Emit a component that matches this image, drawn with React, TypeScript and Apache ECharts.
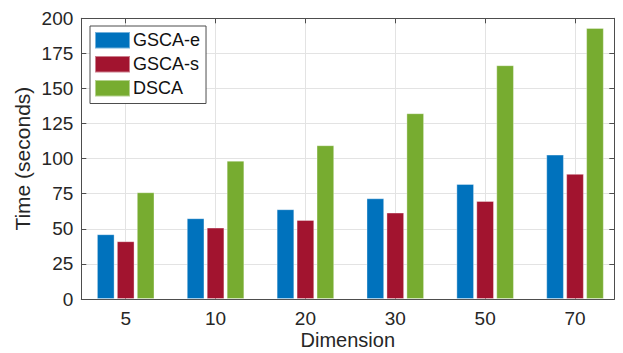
import React, { useEffect, useRef } from "react";
import * as echarts from "echarts";

const categories = ["5", "10", "20", "30", "50", "70"];
const seriesNames = ["GSCA-e", "GSCA-s", "DSCA"];
const gscaE = [46.1, 57.5, 63.9, 71.7, 81.9, 102.8];
const gscaS = [41.1, 50.8, 56.3, 61.5, 69.8, 89.1];
const dsca = [76.0, 98.5, 109.5, 132.3, 166.5, 193.1];
const yTicks = [0, 25, 50, 75, 100, 125, 150, 175, 200];

const colors = ["#0072BD", "#A2142F", "#77AC30"];
const FONT = "'Liberation Sans', Arial, Helvetica, sans-serif";
const TEXT = "#262626";
const AXIS = "#4d4d4d";
const GRID = "#e3e3e3";

export default function App() {
  const ref = useRef<HTMLDivElement>(null);
  useEffect(() => {
    document.body.style.margin = "0";
    const chart = echarts.init(ref.current!, null, { renderer: "svg" });
    const values = [gscaE, gscaS, dsca];
    const xMin = 0.506;
    const xMax = 6.437;
    const labelFor = (v: number) => {
      const i = Math.round(v);
      if (Math.abs(v - i) > 1e-6) return "";
      return categories[i - 1] ?? "";
    };
    const xCommon = {
      type: "value" as const,
      min: xMin,
      max: xMax,
      minInterval: 1,
      maxInterval: 1,
      axisLine: { show: true, onZero: false, lineStyle: { color: AXIS, width: 1 } },
      axisTick: { show: true, inside: true, length: 5, lineStyle: { color: AXIS } },
    };
    const yCommon = {
      type: "value" as const,
      min: 0,
      max: 200,
      interval: 25,
      axisLine: { show: true, lineStyle: { color: AXIS, width: 1 } },
      axisTick: { show: true, inside: true, length: 5, lineStyle: { color: AXIS } },
    };
    chart.setOption({
      animation: false,
      textStyle: { fontFamily: FONT },
      grid: {
        left: 81.3,
        right: 8.7,
        top: 18.3,
        bottom: 54,
        containLabel: false,
        outerBoundsMode: "none",
      },
      legend: {
        show: true,
        orient: "vertical",
        left: 90,
        top: 26,
        data: seriesNames,
        itemWidth: 35,
        itemHeight: 16.5,
        itemGap: 5.5,
        padding: [5, 6, 6, 4],
        borderColor: AXIS,
        borderWidth: 1,
        backgroundColor: "#ffffff",
        icon: "rect",
        textStyle: { fontSize: 18, color: "#111", fontFamily: FONT, lineHeight: 16.5, padding: [0, 0, 0, -2] },
      },
      xAxis: [
        {
          ...xCommon,
          position: "bottom",
          name: "Dimension",
          nameLocation: "middle",
          nameGap: 31,
          nameMoveOverlap: false,
          nameTextStyle: { fontSize: 20, lineHeight: 20, color: TEXT, fontFamily: FONT },
          axisLabel: {
            show: true,
            margin: 10,
            fontSize: 19,
            color: TEXT,
            fontFamily: FONT,
            showMinLabel: false,
            showMaxLabel: false,
            formatter: (v: number) => labelFor(v),
          },
          splitLine: { show: true, lineStyle: { color: GRID, width: 1 } },
        },
        {
          ...xCommon,
          position: "top",
          axisLabel: { show: false },
          splitLine: { show: false },
        },
      ],
      yAxis: [
        {
          ...yCommon,
          position: "left",
          name: "Time (seconds)",
          nameLocation: "middle",
          nameGap: 48,
          nameMoveOverlap: false,
          nameTextStyle: { fontSize: 21, lineHeight: 21, color: TEXT, fontFamily: FONT },
          axisLabel: {
            show: true,
            margin: 8,
            fontSize: 19,
            color: TEXT,
            fontFamily: FONT,
            formatter: (v: number) => (yTicks.includes(v) ? String(v) : ""),
          },
          splitLine: { show: true, lineStyle: { color: GRID, width: 1 } },
        },
        {
          ...yCommon,
          position: "right",
          axisLabel: { show: false },
          splitLine: { show: false },
        },
      ],
      series: seriesNames.map((name, si) => ({
        name,
        type: "bar",
        xAxisIndex: 0,
        yAxisIndex: 0,
        barWidth: 17.5,
        barGap: "14%",
        itemStyle: {
          color: colors[si],
          borderColor: "rgba(255,255,255,0.45)",
          borderWidth: 0.8,
        },
        data: values[si].map((v, i) => [i + 1, v]),
      })),
    });
    return () => chart.dispose();
  }, []);
  return (
    <div
      ref={ref}
      style={{ position: "absolute", left: 0, top: 0, width: 623, height: 353, background: "#fff" }}
    />
  );
}
